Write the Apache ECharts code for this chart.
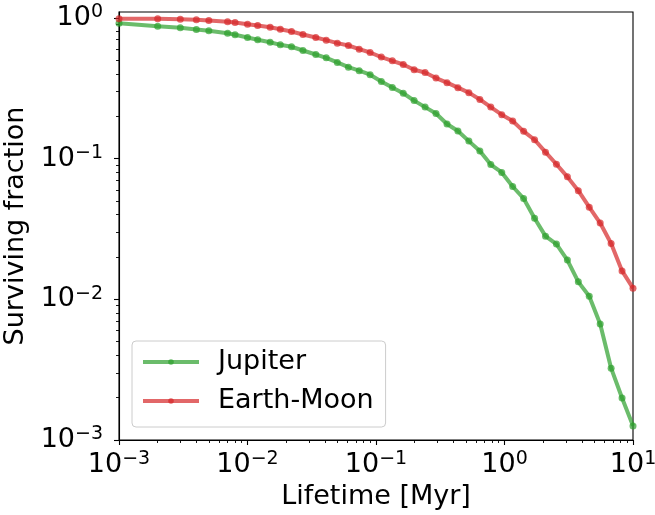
<!DOCTYPE html>
<html>
<head>
<meta charset="utf-8">
<script src="https://cdn.jsdelivr.net/npm/echarts@6/dist/echarts.min.js"></script>
<style>
  html, body { margin: 0; padding: 0; background: #fff; }
  #chart { width: 655px; height: 515px; }
</style>
</head>
<body>
<div id="chart"></div>
<script>
// Lifetime [Myr]
var lifetimes = [0.001, 0.002, 0.003, 0.004, 0.005, 0.007, 0.008, 0.010, 0.012, 0.015,
  0.018, 0.022, 0.027, 0.034, 0.041, 0.050, 0.061, 0.074, 0.090, 0.110,
  0.134, 0.163, 0.198, 0.241, 0.293, 0.357, 0.434, 0.528, 0.643, 0.782,
  0.952, 1.158, 1.409, 1.714, 2.085, 2.536, 3.086, 3.754, 4.566, 5.555,
  6.757, 8.220, 10.0];

// Surviving fraction
var jupiter = [0.916, 0.872, 0.849, 0.826, 0.809, 0.778, 0.758, 0.725, 0.698, 0.671,
  0.643, 0.623, 0.586, 0.549, 0.520, 0.482, 0.446, 0.421, 0.394, 0.353,
  0.320, 0.291, 0.258, 0.232, 0.209, 0.176, 0.157, 0.133, 0.113, 0.0906,
  0.0796, 0.0633, 0.0520, 0.0377, 0.0281, 0.0247, 0.0190, 0.0133, 0.0105, 0.00668,
  0.00324, 0.00199, 0.00126];

var earthMoon = [0.984, 0.984, 0.977, 0.968, 0.957, 0.937, 0.926, 0.901, 0.882, 0.858,
  0.830, 0.799, 0.761, 0.725, 0.694, 0.661, 0.636, 0.599, 0.567, 0.526,
  0.495, 0.466, 0.428, 0.409, 0.373, 0.346, 0.319, 0.294, 0.263, 0.232,
  0.205, 0.185, 0.156, 0.136, 0.111, 0.0911, 0.0741, 0.0591, 0.0451, 0.0348,
  0.0249, 0.0159, 0.0120];

var seriesNames = ['Jupiter', 'Earth-Moon'];
var xMajorTicks = [0.001, 0.01, 0.1, 1, 10];
var yMajorTicks = [0.001, 0.01, 0.1, 1];
var X_MIN = 0.001, X_MAX = 10, Y_MIN = 0.001, Y_MAX = 1.1;

function minorTicks(majors, maxVal) {
  var out = [];
  for (var i = 0; i < majors.length; i++) {
    for (var m = 2; m <= 9; m++) {
      var v = parseFloat((m * majors[i]).toPrecision(3));
      if (v < maxVal) out.push(v);
    }
  }
  return out;
}
var xMinorTicks = minorTicks(xMajorTicks, X_MAX);
var yMinorTicks = minorTicks(yMajorTicks, Y_MAX);

function pairs(xs, ys) {
  return xs.map(function (x, i) { return [x, ys[i]]; });
}

var FONT = 'DejaVu Sans';
var GREEN = '#2ca02c', RED = '#d62728';

function expLabel(v) {
  var e = Math.round(Math.log10(v));
  var s = e < 0 ? '\u2212' + (-e) : String(e);
  return '{b|10}{s|' + s + '}';
}
var rich = {
  b: { fontSize: 27, fontFamily: FONT, color: '#000', lineHeight: 30 },
  s: { fontSize: 19, fontFamily: FONT, color: '#000', lineHeight: 16, verticalAlign: 'top' }
};

var chart = echarts.init(document.getElementById('chart'), null, { renderer: 'canvas' });
var option = {
  animation: false,
  backgroundColor: '#fff',
  textStyle: { fontFamily: FONT },
  grid: {
    left: 119, top: 12, width: 514, height: 428,
    show: true, borderColor: '#000', borderWidth: 1.1,
    containLabel: false, outerBoundsMode: 'none'
  },
  legend: {
    orient: 'vertical',
    left: 132, top: 341,
    data: seriesNames,
    itemWidth: 56, itemHeight: 7, itemGap: 9,
    padding: [6, 12, 11, 9],
    borderColor: '#cccccc', borderWidth: 1, borderRadius: 4,
    backgroundColor: 'rgba(255,255,255,0.8)',
    lineStyle: { width: 4 },
    textStyle: { fontSize: 27, fontFamily: FONT, color: '#000', lineHeight: 30, padding: [0, 0, 0, 14] }
  },
  xAxis: [{
    type: 'log', logBase: 10, min: X_MIN, max: X_MAX, position: 'bottom',
    name: 'Lifetime [Myr]', nameLocation: 'middle', nameGap: 38,
    nameTextStyle: { fontSize: 27, fontFamily: FONT, color: '#000' },
    axisLine: { show: true, onZero: false, lineStyle: { color: '#000', width: 1.1 } },
    axisTick: { show: true, customValues: xMajorTicks, length: 5, lineStyle: { color: '#000', width: 1.1 } },
    axisLabel: { customValues: xMajorTicks, margin: 10, formatter: expLabel, rich: rich },
    splitLine: { show: false }
  }, {
    type: 'log', logBase: 10, min: X_MIN, max: X_MAX, position: 'bottom',
    axisLine: { show: false, onZero: false },
    axisTick: { show: true, customValues: xMinorTicks, length: 3, lineStyle: { color: '#000', width: 0.9 } },
    axisLabel: { show: false },
    splitLine: { show: false }
  }],
  yAxis: [{
    type: 'log', logBase: 10, min: Y_MIN, max: Y_MAX, position: 'left',
    name: 'Surviving fraction', nameLocation: 'middle', nameGap: 84,
    nameTextStyle: { fontSize: 27, fontFamily: FONT, color: '#000' },
    axisLine: { show: true, onZero: false, lineStyle: { color: '#000', width: 1.1 } },
    axisTick: { show: true, customValues: yMajorTicks, length: 5, lineStyle: { color: '#000', width: 1.1 } },
    axisLabel: { customValues: yMajorTicks, margin: 16, formatter: expLabel, rich: rich },
    splitLine: { show: false }
  }, {
    type: 'log', logBase: 10, min: Y_MIN, max: Y_MAX, position: 'left',
    axisLine: { show: false, onZero: false },
    axisTick: { show: true, customValues: yMinorTicks, length: 3, lineStyle: { color: '#000', width: 0.9 } },
    axisLabel: { show: false },
    splitLine: { show: false }
  }],
  series: [{
    name: seriesNames[0], type: 'line', xAxisIndex: 0, yAxisIndex: 0,
    data: pairs(lifetimes, jupiter),
    symbol: 'circle', symbolSize: 7, showAllSymbol: true,
    lineStyle: { color: GREEN, width: 4, opacity: 0.7 },
    itemStyle: { color: GREEN, opacity: 0.7 }
  }, {
    name: seriesNames[1], type: 'line', xAxisIndex: 0, yAxisIndex: 0,
    data: pairs(lifetimes, earthMoon),
    symbol: 'circle', symbolSize: 7, showAllSymbol: true,
    lineStyle: { color: RED, width: 4, opacity: 0.7 },
    itemStyle: { color: RED, opacity: 0.7 }
  }]
};
chart.setOption(option);
</script>
</body>
</html>
